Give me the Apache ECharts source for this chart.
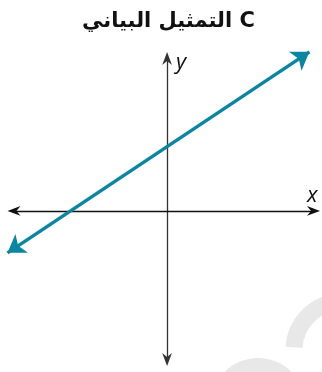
<!DOCTYPE html>
<html lang="ar">
<head>
    <title>graph C</title>
    <meta charset="utf-8">
    <style>
        html, body { margin: 0; padding: 0; background: #fff; }
    </style>
</head>
<body>
<script type="text/javascript" src="https://cdn.jsdelivr.net/npm/echarts@6/dist/echarts.min.js"></script>
<div id="main" style="width: 322px;height: 372px"></div>
<script type="text/javascript">
    // data (y = 2/3 x + 3)
    var titleText = 'التمثيل البياني C';
    var axisNames = ['x', 'y'];
    var xRange = [-7.12, 6.81];
    var yRange = [-6.91, 7.09];
    var lineStart = [-7.42, -1.95];
    var lineEnd = [6.62, 7.40];

    var barb = 'path://M6,0 L12,16 L6,11 L0,16 Z'; // axis arrow head pointing up

    var dom = document.getElementById('main');
    var myChart = echarts.init(dom, null, {renderer: 'canvas'});

    var option = {
        animation: false,
        title: {
            text: titleText,
            left: 77,
            top: 6,
            textStyle: {
                fontFamily: 'DejaVu Sans, sans-serif',
                fontWeight: 'bold',
                fontSize: 21,
                color: '#111'
            }
        },
        grid: {
            left: 14,
            right: 8.5,
            top: 58.5,
            bottom: 12.5
        },
        xAxis: {
            type: 'value',
            min: xRange[0],
            max: xRange[1],
            axisLine: {
                onZero: true,
                symbol: [barb, barb],
                symbolSize: [10, 13],
                lineStyle: {color: '#111', width: 1.3}
            },
            axisTick: {show: false},
            axisLabel: {show: false},
            splitLine: {show: false}
        },
        yAxis: {
            type: 'value',
            min: yRange[0],
            max: yRange[1],
            axisLine: {
                onZero: true,
                symbol: [barb, barb],
                symbolSize: [10, 13],
                lineStyle: {color: '#333', width: 1.3}
            },
            axisTick: {show: false},
            axisLabel: {show: false},
            splitLine: {show: false}
        },
        graphic: [
            // faint watermark in the corner
            {
                type: 'arc',
                z: -10,
                silent: true,
                shape: {cx: 342, cy: 350, r: 48, startAngle: 3.2, endAngle: 4.6},
                style: {stroke: '#e8e8e8', lineWidth: 17, fill: 'none'}
            },
            {
                type: 'circle',
                z: -10,
                silent: true,
                shape: {cx: 258, cy: 405, r: 47},
                style: {fill: '#e8e8e8'}
            },
            {
                type: 'text',
                left: 307,
                top: 185,
                style: {
                    text: axisNames[0],
                    font: 'italic 22px "Open Sans", sans-serif',
                    fill: '#111'
                }
            },
            {
                type: 'text',
                left: 176,
                top: 52,
                style: {
                    text: axisNames[1],
                    font: 'italic 22px "Open Sans", sans-serif',
                    fill: '#111'
                }
            }
        ],
        series: [{
            type: 'lines',
            coordinateSystem: 'cartesian2d',
            clip: false,
            symbol: ['arrow', 'arrow'],
            symbolSize: 17,
            lineStyle: {
                color: '#0a86a3',
                width: 3.5,
                opacity: 1
            },
            data: [{coords: [lineStart, lineEnd]}]
        }]
    };
    myChart.setOption(option);
</script>
</body>
</html>
